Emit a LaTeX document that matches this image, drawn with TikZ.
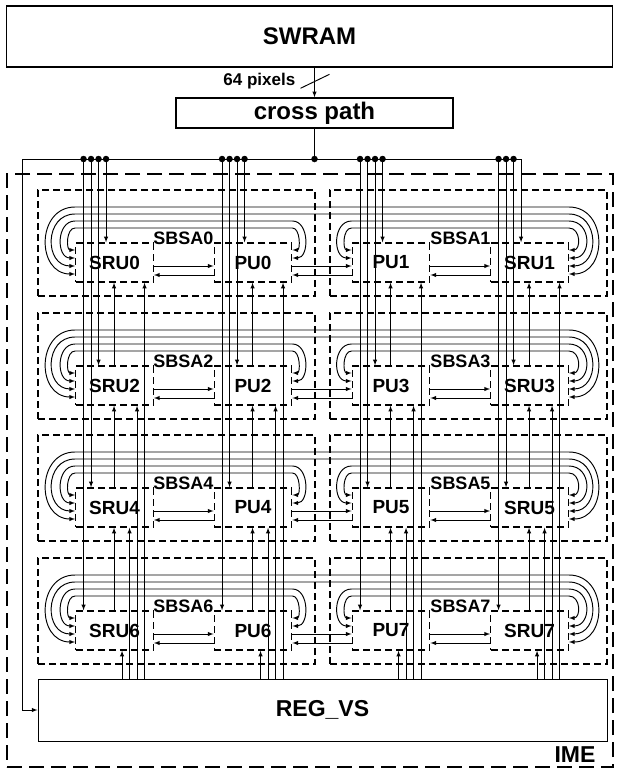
\documentclass[tikz,border=0pt]{standalone}
\usepackage{fontspec}
\setmainfont{Liberation Sans}
\usetikzlibrary{arrows,calc}

\begin{document}
\begin{tikzpicture}[x=1pt,y=-1pt,>=latex,
  wire/.style={line width=0.95pt},
  tap/.style={circle,fill,inner sep=0pt,minimum size=6.5pt},
  blk/.style={draw,inner sep=0pt,font=\fontsize{24}{28}\selectfont\bfseries},
  unit/.style={draw,dash pattern=on 7pt off 4pt,line width=1.4pt,inner sep=0pt,
    minimum width=77.5pt,minimum height=39pt,font=\fontsize{19}{22}\selectfont\bfseries},
  sbsa/.style={draw,dash pattern=on 7pt off 4pt,line width=1.7pt,inner sep=0pt,
    minimum width=277pt,minimum height=106pt},
  tag/.style={inner sep=0pt,font=\fontsize{18}{20}\selectfont\bfseries}]
\useasboundingbox (0,0) rectangle (619,774);

\node[blk,line width=1.8pt,minimum width=606,minimum height=61] (swram) at (309.5,36.5) {SWRAM};
\node[blk,line width=1.4pt,minimum width=277,minimum height=30] (cross) at (314.5,113) {cross path};
\node[blk,line width=1pt,minimum width=569,minimum height=62,font=\fontsize{23}{26}\selectfont\bfseries] (regvs) at (322.5,710) {REG\_VS};
\node[draw,dash pattern=on 15pt off 7pt,line width=2pt,inner sep=0pt,minimum width=606,minimum height=593] (ime) at (310,470.5) {};
\node[tag,font=\fontsize{23}{26}\selectfont\bfseries] (imetag) at (575,755) {IME};

\draw[wire,->] (swram.south -| cross.north) -- (cross.north);
\draw[wire] ($(cross.north)+(-14,-9)$) -- ($(cross.north)+(15,-23)$);
\node[tag,font=\fontsize{17}{19}\selectfont\bfseries,anchor=east] (width) at ($(cross.north)+(-19,-16)$) {64 pixels};

\coordinate (busL) at (22,159);
\coordinate (busR) at (521.75,159);
\draw[wire] (cross.south) -- (cross.south |- busL) node[tap] (tapX) {};
\draw[wire,->] (busR) -- (busL) -- (busL |- regvs.west) -- (regvs.west);

\foreach \r/\rowtop in {0/190,1/313,2/435,3/558} {
  \pgfmathtruncatemacro\ia{2*\r}
  \pgfmathtruncatemacro\ib{2*\r+1}
  \node[sbsa] (sbsa\ia) at (176.5,\rowtop+53) {};
  \node[sbsa] (sbsa\ib) at (468.5,\rowtop+53) {};
  \node[unit] (sru\ia) at (114.5,\rowtop+72.5) {SRU\ia};
  \node[unit] (pu\ia) at (253,\rowtop+72.5) {PU\ia};
  \node[unit] (pu\ib) at (391,\rowtop+72.5) {PU\ib};
  \node[unit] (sru\ib) at (529.5,\rowtop+72.5) {SRU\ib};
  \node[tag] (name\ia) at (183.5,\rowtop+48) {SBSA\ia};
  \node[tag] (name\ib) at (460.5,\rowtop+48) {SBSA\ib};

  \draw[wire,<->] ($(sru\ia.west)+(0,11.5)$) .. controls +(-39,0) and +(-39,0) .. ($(sru\ia.west)+(0,-55.5)$) -- ($(sru\ib.east)+(0,-55.5)$) .. controls +(39,0) and +(39,0) .. ($(sru\ib.east)+(0,11.5)$);
  \draw[wire,<->] ($(sru\ia.west)+(0,3.5)$) .. controls +(-31,0) and +(-31,0) .. ($(sru\ia.west)+(0,-48.5)$) -- ($(sru\ib.east)+(0,-48.5)$) .. controls +(31,0) and +(31,0) .. ($(sru\ib.east)+(0,3.5)$);
  \draw[wire,<->] ($(sru\ia.west)+(0,-4.5)$) .. controls +(-19,0) and +(-19,0) .. ($(sru\ia.west)+(0,-41.5)$) -- ($(pu\ia.east)+(0,-41.5)$) .. controls +(17,0) and +(17,0) .. ($(pu\ia.east)+(0,-4.5)$);
  \draw[wire,<->] ($(sru\ia.west)+(0,-12.5)$) .. controls +(-9,0) and +(-9,0) .. ($(sru\ia.west)+(0,-34.5)$) -- ($(pu\ia.east)+(0,-34.5)$) .. controls +(8,0) and +(8,0) .. ($(pu\ia.east)+(0,-12.5)$);
  \draw[wire,<->] ($(pu\ib.west)+(0,-4.5)$) .. controls +(-19,0) and +(-19,0) .. ($(pu\ib.west)+(0,-41.5)$) -- ($(sru\ib.east)+(0,-41.5)$) .. controls +(23,0) and +(23,0) .. ($(sru\ib.east)+(0,-4.5)$);
  \draw[wire,<->] ($(pu\ib.west)+(0,-12.5)$) .. controls +(-9,0) and +(-9,0) .. ($(pu\ib.west)+(0,-34.5)$) -- ($(sru\ib.east)+(0,-34.5)$) .. controls +(12,0) and +(12,0) .. ($(sru\ib.east)+(0,-12.5)$);

  \draw[wire,->] ($(sru\ia.east)+(0,3.5)$) -- ($(pu\ia.west)+(0,3.5)$);
  \draw[wire,<-] ($(sru\ia.east)+(0,12.5)$) -- ($(pu\ia.west)+(0,12.5)$);
  \draw[wire,->] ($(pu\ia.east)+(0,3.5)$) -- ($(pu\ib.west)+(0,3.5)$);
  \draw[wire,<-] ($(pu\ia.east)+(0,12.5)$) -- ($(pu\ib.west)+(0,12.5)$);
  \draw[wire,->] ($(pu\ib.east)+(0,3.5)$) -- ($(sru\ib.west)+(0,3.5)$);
  \draw[wire,<-] ($(pu\ib.east)+(0,12.5)$) -- ($(sru\ib.west)+(0,12.5)$);
}

\foreach \bx/\c in {sru/0,pu/0,pu/1,sru/1} {
  \foreach \i in {0,1,2,3} {
    \pgfmathtruncatemacro\nn{2*(3-\i)+\c}
    \coordinate (e) at ($(\bx\nn.north west)+(8.5+7.5*\i,0)$);
    \draw[wire,->] (e |- busL) -- (e);
    \coordinate (u) at ($(\bx\nn.south west)+(47+7.5*\i,0)$);
    \draw[wire,->] (u |- regvs.north) -- (u);
  }
  \foreach \r in {0,1,2} {
    \pgfmathtruncatemacro\mm{2*\r+\c}
    \pgfmathtruncatemacro\nn{2*\r+2+\c}
    \coordinate (v) at ($(\bx\mm.south west)+(39,0)$);
    \draw[wire,->] (v |- \bx\nn.north) -- (v);
  }
}

\foreach \bx/\c/\k in {sru/0/3,pu/0/3,pu/1/3,sru/1/2} {
  \foreach \i in {0,...,\k} {
    \coordinate (e) at ($(\bx\c.north west)+(8.5+7.5*\i,0)$);
    \node[tap] (tap\bx\c\i) at (e |- busL) {};
  }
}
\end{tikzpicture}
\end{document}
